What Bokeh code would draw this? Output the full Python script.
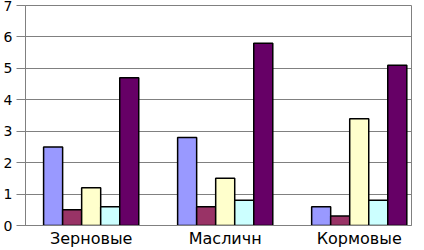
from bokeh.plotting import figure
from bokeh.models import ColumnDataSource, FixedTicker, Range1d
from bokeh.transform import dodge
from bokeh.embed import file_html
from bokeh.resources import INLINE

categories = ["Зерновые", "Масличн", "Кормовые"]
series1 = [2.5, 2.8, 0.6]
series2 = [0.5, 0.6, 0.3]
series3 = [1.2, 1.5, 3.4]
series4 = [0.6, 0.8, 0.8]
series5 = [4.7, 5.8, 5.1]
y_ticks = [0, 1, 2, 3, 4, 5, 6, 7]

colors = ["#9999FF", "#993366", "#FFFFCC", "#CCFFFF", "#660066"]

xi = list(range(len(categories)))
src = ColumnDataSource(dict(xi=xi, cat=categories, s1=series1, s2=series2,
                            s3=series3, s4=series4, s5=series5))

p = figure(x_range=Range1d(-0.49, 2.39), y_range=Range1d(0, 7),
           width=416, height=250,
           output_backend="svg", toolbar_location=None,
           min_border_left=24, min_border_right=5, min_border_top=5,
           min_border_bottom=0)

w = 0.142
for i, c in enumerate(colors):
    p.vbar(x=dodge("xi", (i - 2) * w), top="s%d" % (i + 1),
           width=w, source=src, fill_color=c, line_color="black",
           line_width=1.5)

p.background_fill_color = "white"
p.border_fill_color = "white"
p.outline_line_color = "#808080"
p.outline_line_width = 1

p.xgrid.grid_line_color = None
p.ygrid.grid_line_color = "#808080"
p.ygrid.grid_line_width = 1

p.yaxis.ticker = FixedTicker(ticks=y_ticks)
p.yaxis.axis_line_color = "#808080"
p.yaxis.major_tick_line_color = "#808080"
p.yaxis.major_tick_out = 9
p.yaxis.major_tick_in = 0
p.yaxis.minor_tick_line_color = None
p.yaxis.major_label_standoff = 4
p.yaxis.major_label_text_font = "DejaVu Sans"
p.yaxis.major_label_text_font_size = "14px"
p.yaxis.major_label_text_color = "black"

p.xaxis.ticker = FixedTicker(ticks=xi)
p.xaxis.major_label_overrides = {i: c for i, c in zip(xi, categories)}
p.xaxis.axis_line_color = "#808080"
p.xaxis.major_tick_line_color = None
p.xaxis.major_tick_out = 0
p.xaxis.major_tick_in = 0
p.xaxis.minor_tick_line_color = None
p.xaxis.major_label_standoff = 3
p.xaxis.axis_label_standoff = 0
p.xaxis.major_label_text_font = "DejaVu Sans"
p.xaxis.major_label_text_font_size = "16px"
p.xaxis.major_label_text_color = "black"

open("out.html", "w").write(file_html(p, INLINE))
